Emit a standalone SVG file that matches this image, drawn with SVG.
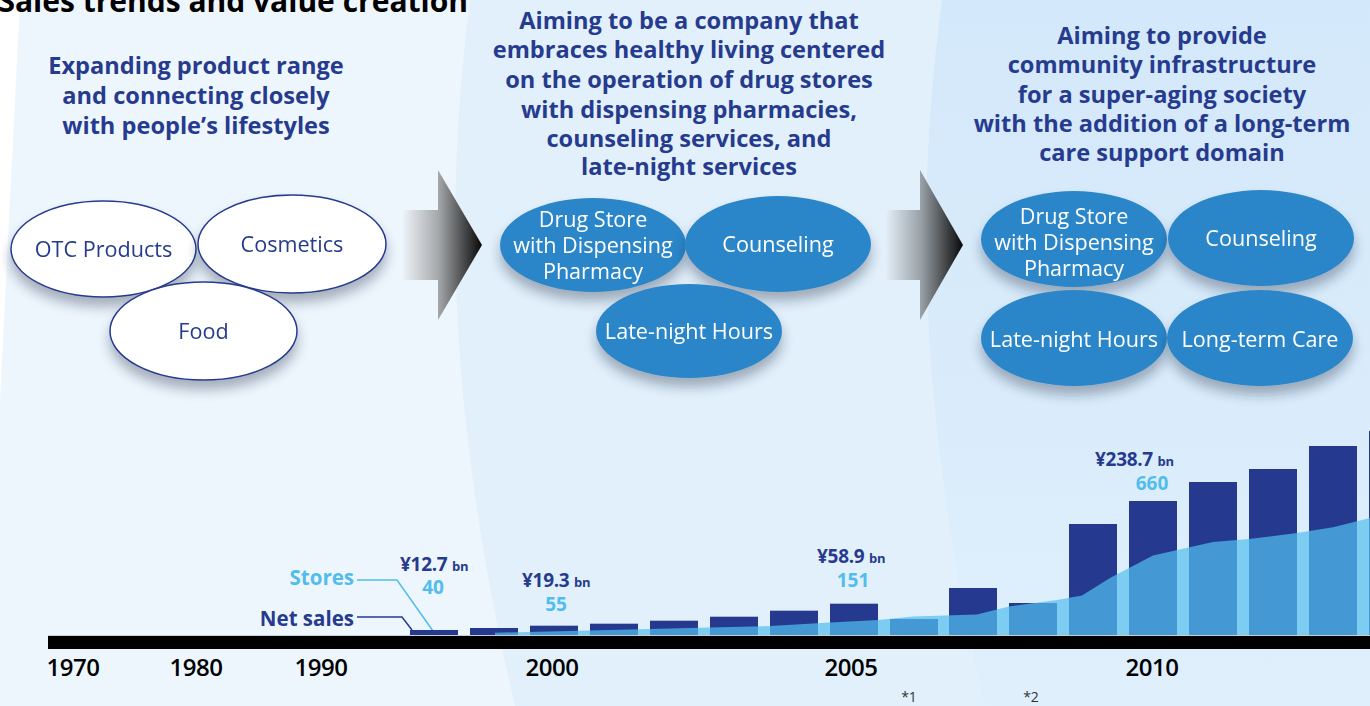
<svg xmlns="http://www.w3.org/2000/svg" width="1370" height="706" viewBox="0 0 1370 706">
<defs>
<style>
.hd{font-family:"Open Sans","Noto Sans",sans-serif;font-weight:700;font-size:23.6px;fill:#263b8e;text-anchor:middle}
.wt{font-family:"Open Sans","Noto Sans",sans-serif;font-size:21.6px;fill:#263b8e;text-anchor:middle}
.bt{font-family:"Open Sans","Noto Sans",sans-serif;font-size:21.6px;fill:#ffffff;text-anchor:middle}
.yr{font-family:"Open Sans","Noto Sans",sans-serif;font-weight:600;font-size:24px;fill:#000;text-anchor:middle;letter-spacing:-0.5px}
.val{font-family:"Open Sans","Noto Sans",sans-serif;font-weight:700;font-size:19px;fill:#263b8e;letter-spacing:-0.3px}
.bn{font-size:13px}
.st{font-family:"Open Sans","Noto Sans",sans-serif;font-weight:700;font-size:19px;fill:#52bdec;text-anchor:middle}
.lg{font-family:"Open Sans","Noto Sans",sans-serif;font-weight:700;font-size:20.5px;text-anchor:end}
.nt{font-family:"Open Sans","Noto Sans",sans-serif;font-size:14px;fill:#333;text-anchor:middle}
.we{fill:#ffffff;stroke:#263b8e;stroke-width:1.5}
.be{fill:#2b86c8}
.bar{fill:#253a8f}
.bar2{fill:#4499d4}
</style>
<filter id="sh" x="-20%" y="-20%" width="140%" height="160%">
<feDropShadow dx="0" dy="9" stdDeviation="6" flood-color="#1a2a40" flood-opacity="0.35"/>
</filter>
<linearGradient id="ag1" gradientUnits="userSpaceOnUse" x1="403" y1="0" x2="482" y2="0">
<stop offset="0" stop-color="#eef3f7"/>
<stop offset="0.45" stop-color="#a4a7aa"/>
<stop offset="1" stop-color="#080808"/>
</linearGradient>
<linearGradient id="ag2" gradientUnits="userSpaceOnUse" x1="886" y1="0" x2="963" y2="0">
<stop offset="0" stop-color="#e3eef7"/>
<stop offset="0.45" stop-color="#9aa2a8"/>
<stop offset="1" stop-color="#080808"/>
</linearGradient>
<linearGradient id="rp" x1="0" y1="0" x2="0" y2="1">
<stop offset="0" stop-color="#d3e8fa"/>
<stop offset="1" stop-color="#dfeffc"/>
</linearGradient>
<clipPath id="areaClip">
<polygon points="495,636 495,632.7 590,630.5 710,627.5 770,626 830,622.5 878,620 913,616.5 977,614.5 1009,606.5 1057,600 1082,595.5 1110,578 1153,555.5 1213,542 1249,539 1297,533 1333,527.3 1370,518 1370,636"/>
</clipPath>
</defs>

<g id="background">
<rect x="0" y="0" width="1370" height="706" fill="#ffffff"/>
<path d="M20,0 L0,400 L0,706 L1370,706 L1370,0 Z" fill="#eef6fd"/>
<path d="M470,0 C444,200 448,420 515,706 L1370,706 L1370,0 Z" fill="#e2f0fb"/>
<path d="M942,0 C915,200 918,420 985,706 L1370,706 L1370,0 Z" fill="url(#rp)"/>
</g>

<text x="468" y="12" font-family="'Open Sans','Noto Sans',sans-serif" font-weight="700" font-size="30" fill="#000" text-anchor="end">Sales trends and value creation</text>

<g id="heading-left">
<text class="hd" x="196" y="74">Expanding product range</text>
<text class="hd" x="196" y="104">and connecting closely</text>
<text class="hd" x="196" y="134">with people’s lifestyles</text>
</g>
<g id="heading-middle">
<text class="hd" x="689" y="29">Aiming to be a company that</text>
<text class="hd" x="689" y="58">embraces healthy living centered</text>
<text class="hd" x="689" y="88">on the operation of drug stores</text>
<text class="hd" x="689" y="118">with dispensing pharmacies,</text>
<text class="hd" x="689" y="147">counseling services, and</text>
<text class="hd" x="689" y="175">late-night services</text>
</g>
<g id="heading-right">
<text class="hd" x="1162" y="44">Aiming to provide</text>
<text class="hd" x="1162" y="73">community infrastructure</text>
<text class="hd" x="1162" y="103">for a super-aging society</text>
<text class="hd" x="1162" y="132">with the addition of a long-term</text>
<text class="hd" x="1162" y="161">care support domain</text>
</g>

<g id="connectors">
<path d="M403,210 L438,210 L438,170 L482,245 L438,320 L438,280 L403,280 Z" fill="url(#ag1)"/>
<path d="M886,210 L920,210 L920,170 L963,245 L920,320 L920,280 L886,280 Z" fill="url(#ag2)"/>
<polyline points="357,580 397,580 433,631" fill="none" stroke="#52bdec" stroke-width="1.5"/>
<polyline points="357,617 402,617 412,630" fill="none" stroke="#263b8e" stroke-width="1.5"/>
</g>

<g id="node-otc" filter="url(#sh)">
<ellipse class="we" cx="103.5" cy="249" rx="92.5" ry="48"/>
<text class="wt" x="103.5" y="257">OTC Products</text>
</g>
<g id="node-cosmetics" filter="url(#sh)">
<ellipse class="we" cx="292" cy="244" rx="94" ry="49"/>
<text class="wt" x="292" y="252">Cosmetics</text>
</g>
<g id="node-food" filter="url(#sh)">
<ellipse class="we" cx="203.5" cy="331" rx="93.5" ry="49"/>
<text class="wt" x="203.5" y="339">Food</text>
</g>

<g id="node-drugstore-1" filter="url(#sh)">
<ellipse class="be" cx="593" cy="245" rx="93" ry="47"/>
<text class="bt" x="593" y="227">Drug Store</text>
<text class="bt" x="593" y="253">with Dispensing</text>
<text class="bt" x="593" y="279">Pharmacy</text>
</g>
<g id="node-counseling-1" filter="url(#sh)">
<ellipse class="be" cx="778" cy="244" rx="93" ry="48"/>
<text class="bt" x="778" y="252">Counseling</text>
</g>
<g id="node-latenight-1" filter="url(#sh)">
<ellipse class="be" cx="689" cy="331" rx="93" ry="47"/>
<text class="bt" x="689" y="339">Late-night Hours</text>
</g>

<g id="node-drugstore-2" filter="url(#sh)">
<ellipse class="be" cx="1074" cy="239" rx="93" ry="48"/>
<text class="bt" x="1074" y="224">Drug Store</text>
<text class="bt" x="1074" y="250">with Dispensing</text>
<text class="bt" x="1074" y="276">Pharmacy</text>
</g>
<g id="node-counseling-2" filter="url(#sh)">
<ellipse class="be" cx="1261" cy="238" rx="93" ry="48"/>
<text class="bt" x="1261" y="246">Counseling</text>
</g>
<g id="node-latenight-2" filter="url(#sh)">
<ellipse class="be" cx="1074" cy="338" rx="93" ry="48"/>
<text class="bt" x="1074" y="347">Late-night Hours</text>
</g>
<g id="node-longterm" filter="url(#sh)">
<ellipse class="be" cx="1260" cy="338" rx="93" ry="48"/>
<text class="bt" x="1260" y="347">Long-term Care</text>
</g>

<g id="chart">
<polygon points="495,636 495,632.7 590,630.5 710,627.5 770,626 830,622.5 878,620 913,616.5 977,614.5 1009,606.5 1057,600 1082,595.5 1110,578 1153,555.5 1213,542 1249,539 1297,533 1333,527.3 1370,518 1370,636" fill="#7dcdf3"/>
<g id="bars-dark">
<rect class="bar" x="410" y="630" width="48" height="6"/>
<rect class="bar" x="470" y="628" width="48" height="8"/>
<rect class="bar" x="530" y="625.7" width="48" height="10.3"/>
<rect class="bar" x="590" y="623.7" width="48" height="12.3"/>
<rect class="bar" x="650" y="620.7" width="48" height="15.3"/>
<rect class="bar" x="710" y="616.7" width="48" height="19.3"/>
<rect class="bar" x="770" y="610.7" width="48" height="25.3"/>
<rect class="bar" x="830" y="603.7" width="48" height="32.3"/>
<rect class="bar" x="890" y="619" width="48" height="17"/>
<rect class="bar" x="949" y="588" width="48" height="48"/>
<rect class="bar" x="1009" y="603" width="48" height="33"/>
<rect class="bar" x="1069" y="524" width="48" height="112"/>
<rect class="bar" x="1129" y="501" width="48" height="135"/>
<rect class="bar" x="1189" y="482" width="48" height="154"/>
<rect class="bar" x="1249" y="469" width="48" height="167"/>
<rect class="bar" x="1309" y="446" width="48" height="190"/>
<rect class="bar" x="1369" y="431" width="48" height="205"/>
</g>
<g id="bars-overlap" clip-path="url(#areaClip)">
<rect class="bar2" x="410" y="630" width="48" height="6"/>
<rect class="bar2" x="470" y="628" width="48" height="8"/>
<rect class="bar2" x="530" y="625.7" width="48" height="10.3"/>
<rect class="bar2" x="590" y="623.7" width="48" height="12.3"/>
<rect class="bar2" x="650" y="620.7" width="48" height="15.3"/>
<rect class="bar2" x="710" y="616.7" width="48" height="19.3"/>
<rect class="bar2" x="770" y="610.7" width="48" height="25.3"/>
<rect class="bar2" x="830" y="603.7" width="48" height="32.3"/>
<rect class="bar2" x="890" y="619" width="48" height="17"/>
<rect class="bar2" x="949" y="588" width="48" height="48"/>
<rect class="bar2" x="1009" y="603" width="48" height="33"/>
<rect class="bar2" x="1069" y="524" width="48" height="112"/>
<rect class="bar2" x="1129" y="501" width="48" height="135"/>
<rect class="bar2" x="1189" y="482" width="48" height="154"/>
<rect class="bar2" x="1249" y="469" width="48" height="167"/>
<rect class="bar2" x="1309" y="446" width="48" height="190"/>
<rect class="bar2" x="1369" y="431" width="48" height="205"/>
</g>
<line x1="48" y1="635.5" x2="1370" y2="635.5" stroke="#c9ced3" stroke-width="1"/>
<rect x="48" y="636" width="1322" height="13" fill="#000"/>
<text class="yr" x="73" y="676">1970</text>
<text class="yr" x="196" y="676">1980</text>
<text class="yr" x="321" y="676">1990</text>
<text class="yr" x="552" y="676">2000</text>
<text class="yr" x="851" y="676">2005</text>
<text class="yr" x="1152" y="676">2010</text>
<text class="nt" x="909" y="702">*1</text>
<text class="nt" x="1031" y="702">*2</text>
<text class="lg" x="354" y="585" fill="#52bdec">Stores</text>
<text class="lg" x="354" y="626" fill="#263b8e">Net sales</text>
<text class="val" x="400" y="571">¥12.7 <tspan class="bn">bn</tspan></text>
<text class="st" x="433" y="594">40</text>
<text class="val" x="522" y="587">¥19.3 <tspan class="bn">bn</tspan></text>
<text class="st" x="556" y="611">55</text>
<text class="val" x="817" y="563">¥58.9 <tspan class="bn">bn</tspan></text>
<text class="st" x="853" y="587">151</text>
<text class="val" x="1095" y="466">¥238.7 <tspan class="bn">bn</tspan></text>
<text class="st" x="1152" y="490">660</text>
</g>
</svg>
